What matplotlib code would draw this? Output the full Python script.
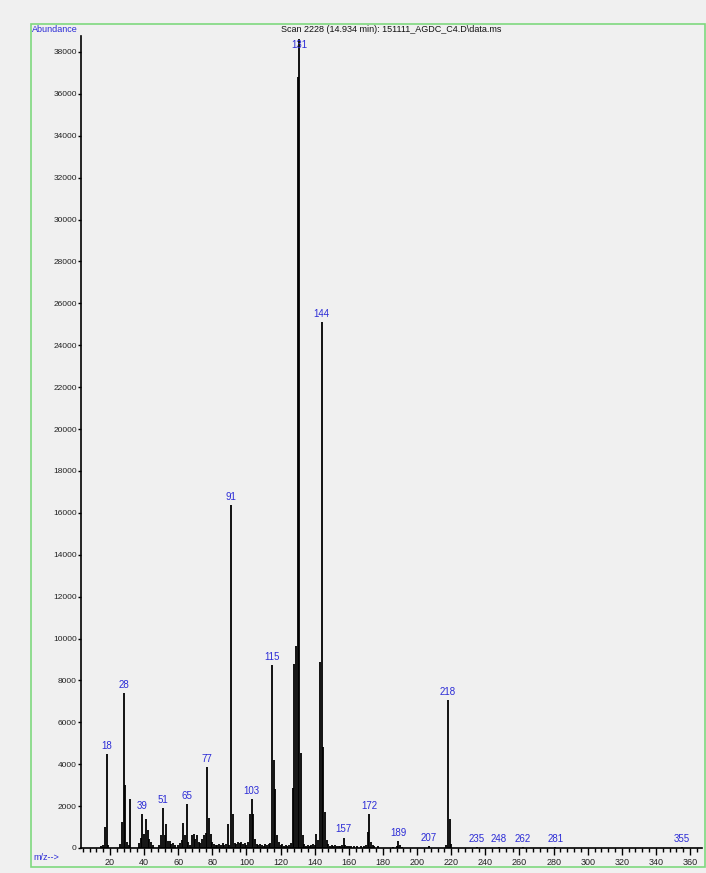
import matplotlib
matplotlib.use("Agg")
import matplotlib.pyplot as plt
from matplotlib.patches import Rectangle
from matplotlib.ticker import MultipleLocator

mz = [15, 16, 17, 18, 19, 26, 27, 28, 29, 30, 31, 32,
      37, 38, 39, 40, 41, 42, 43, 44, 45, 49, 50, 51, 52, 53, 54, 55, 56, 57, 58,
      60, 61, 62, 63, 64, 65, 66, 67, 68, 69, 70, 71, 72, 73, 74, 75, 76, 77, 78, 79, 80,
      81, 82, 83, 84, 85, 86, 87, 88, 89, 90, 91, 92, 93, 94, 95, 96, 97, 98, 99, 100,
      101, 102, 103, 104, 105, 106, 107, 108, 109, 110, 111, 112, 113, 114, 115, 116, 117,
      118, 119, 120, 121, 122, 123, 124, 125, 126, 127, 128, 129, 130, 131, 132, 133, 134,
      135, 136, 137, 138, 139, 140, 141, 142, 143, 144, 145, 146, 147, 148, 149, 150, 151,
      152, 153, 154, 155, 156, 157, 158, 159, 160, 161, 163, 165, 167, 169, 170, 171, 172,
      173, 174, 175, 177, 186, 188, 189, 190, 191, 207, 217, 218, 219, 220,
      235, 248, 262, 281, 355]
abundance = [80, 150, 1000, 4470, 150, 200, 1230, 7380, 3000, 300, 150, 2320,
             250, 500, 1620, 650, 1380, 850, 450, 300, 150, 150, 600, 1920, 600, 1150, 350, 350, 200, 250, 150,
             150, 250, 400, 1190, 600, 2080, 300, 150, 600, 650, 450, 600, 300, 250, 450, 600, 700, 3880, 1450, 650, 300,
             200, 150, 150, 200, 150, 250, 150, 200, 1150, 150, 16350, 1600, 250, 200, 300, 250, 300, 200, 250, 150,
             300, 1600, 2320, 1600, 450, 200, 150, 200, 150, 100, 200, 150, 200, 250, 8740, 4200, 2800,
             600, 300, 150, 200, 100, 150, 100, 150, 250, 2880, 8780, 9640, 36800, 38600, 4520, 600, 200,
             100, 150, 100, 150, 200, 150, 650, 400, 8860, 25100, 4840, 1700, 400, 200, 100, 150, 100,
             150, 100, 100, 100, 120, 500, 150, 100, 100, 80, 80, 100, 80, 100, 150, 750, 1600,
             300, 150, 80, 100, 60, 80, 350, 150, 60, 90, 150, 7070, 1370, 200,
             40, 40, 40, 40, 40]

labeled_mz = [18, 28, 39, 51, 65, 77, 91, 103, 115, 131, 144, 157, 172, 189, 207, 218,
              235, 248, 262, 281, 355]

y_ticks = list(range(0, 38001, 2000))
x_ticks = list(range(20, 361, 20))
title = "Scan 2228 (14.934 min): 151111_AGDC_C4.D\\data.ms"

plt.rcParams['font.family'] = ['Liberation Sans', 'DejaVu Sans']

W, H = 706, 873
fig = plt.figure(figsize=(W / 100, H / 100), dpi=100)
bg = '#f0f0f0'
fig.patch.set_facecolor(bg)

# green frame
fig.patches.append(Rectangle((31 / W, 1 - 867 / H), (705 - 31) / W, (867 - 24) / H,
                             transform=fig.transFigure, fill=False,
                             edgecolor='#7ed87e', linewidth=1.2))

ax = fig.add_axes([81 / W, 1 - 848 / H, (702 - 81) / W, (848 - 36) / H])
ax.set_facecolor(bg)
ax.vlines(mz, 0, abundance, colors='black', linewidth=1.3)

ax.set_xlim(3, 367)
ax.set_ylim(0, 38760)
for s in ['top', 'right']:
    ax.spines[s].set_visible(False)
for s in ['left', 'bottom']:
    ax.spines[s].set_linewidth(1.2)
    ax.spines[s].set_color('black')

ax.set_yticks(y_ticks)
ax.set_yticklabels([str(v) for v in y_ticks], fontsize=6, color='#222222')
ax.set_xticks(x_ticks)
ax.set_xticklabels([str(v) for v in x_ticks], fontsize=6.5, color='#222222')
ax.xaxis.set_minor_locator(MultipleLocator(4))
ax.tick_params(axis='x', which='major', length=5, width=1, pad=2)
ax.tick_params(axis='x', which='minor', length=3, width=1)
ax.tick_params(axis='y', which='major', length=2, width=1, pad=1)

ab = dict(zip(mz, abundance))
for m in labeled_mz:
    v = ab[m]
    if m == 131:
        ax.text(m, v - 250, str(m), color='#2b2bd6', fontsize=7, ha='center', va='center',
                clip_on=False)
    else:
        ax.text(m, v + 150, str(m), color='#2b2bd6', fontsize=7, ha='center', va='bottom',
                clip_on=False)

fig.text(391.5 / W, 1 - 30 / H, title, fontsize=6.5, ha='center', va='center', color='#111111')
fig.text(32 / W, 1 - 30 / H, 'Abundance', fontsize=6.5, ha='left', va='center', color='#2b2bd6')
fig.text(33 / W, 1 - 858 / H, 'm/z-->', fontsize=6.5, ha='left', va='center', color='#2b2bd6')

fig.savefig('out.png', dpi=100, facecolor=bg)
